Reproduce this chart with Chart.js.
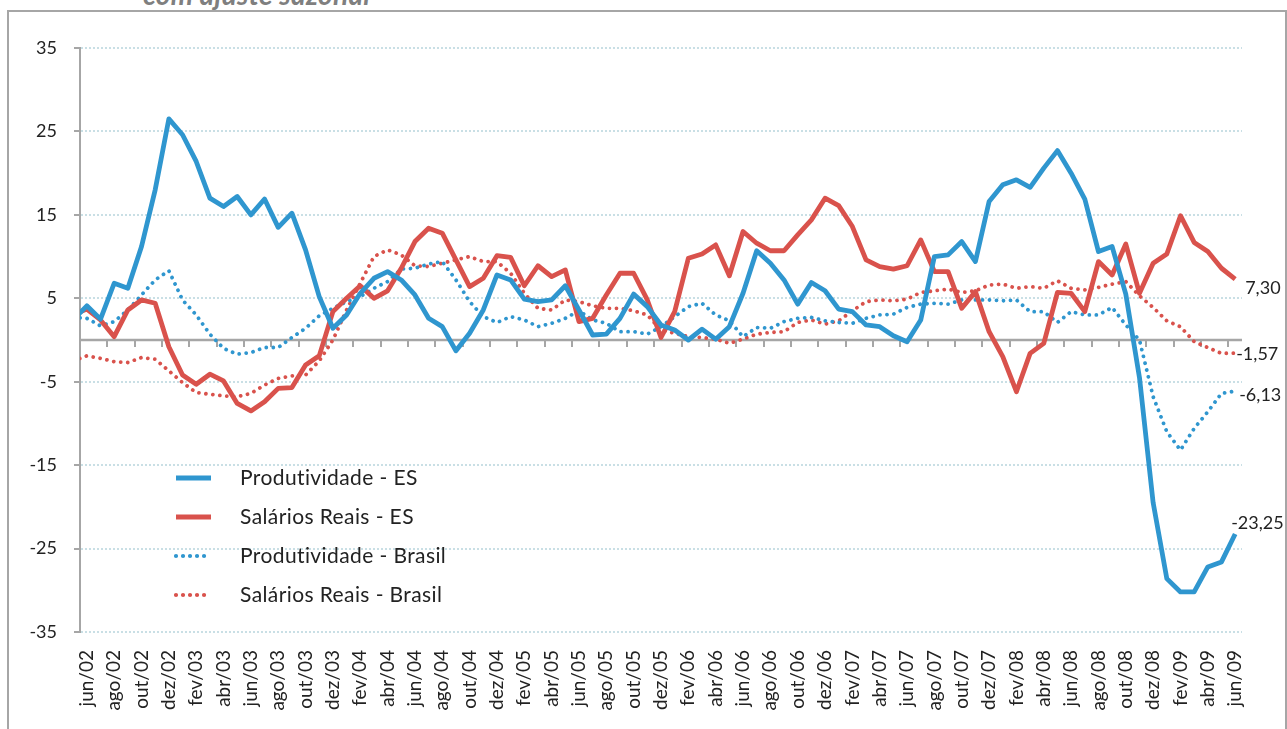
<!DOCTYPE html>
<html><head><meta charset="utf-8">
<script src="https://cdn.jsdelivr.net/npm/chart.js@4.4.1/dist/chart.umd.min.js"></script>
<style>
html,body{margin:0;padding:0;background:#fff;}
#wrap{position:relative;width:1287px;height:729px;overflow:hidden;background:#fff;}
#frame{position:absolute;left:7px;top:10px;width:1280px;height:760px;border:2px solid #a6a6a6;box-sizing:border-box;}
#title{position:absolute;left:143px;top:-20px;font:italic bold 28px Lato, sans-serif;color:#7f7f7f;white-space:nowrap;line-height:28px;letter-spacing:0.3px;font-variant-ligatures:none;}
canvas{position:absolute;left:0;top:0;}
</style></head>
<body>
<div id="wrap"><div id="frame"></div><div id="title">com ajuste sazonal</div><canvas id="c" width="1287" height="729"></canvas></div>
<script>
// categories: first entry (mai/02) lies just before the visible axis range, as in the original chart
const categories = ['mai/02','jun/02','jul/02','ago/02','set/02','out/02','nov/02','dez/02',
'jan/03','fev/03','mar/03','abr/03','mai/03','jun/03','jul/03','ago/03','set/03','out/03','nov/03','dez/03',
'jan/04','fev/04','mar/04','abr/04','mai/04','jun/04','jul/04','ago/04','set/04','out/04','nov/04','dez/04',
'jan/05','fev/05','mar/05','abr/05','mai/05','jun/05','jul/05','ago/05','set/05','out/05','nov/05','dez/05',
'jan/06','fev/06','mar/06','abr/06','mai/06','jun/06','jul/06','ago/06','set/06','out/06','nov/06','dez/06',
'jan/07','fev/07','mar/07','abr/07','mai/07','jun/07','jul/07','ago/07','set/07','out/07','nov/07','dez/07',
'jan/08','fev/08','mar/08','abr/08','mai/08','jun/08','jul/08','ago/08','set/08','out/08','nov/08','dez/08',
'jan/09','fev/09','mar/09','abr/09','mai/09','jun/09'];
const firstShown = 'jun/02';

const produtividadeES = [2.4,
 4.1, 2.5, 6.8, 6.2, 11.2, 18.0, 26.5, 24.6, 21.4, 17.0,
 16.0, 17.2, 15.0, 16.9, 13.5, 15.2, 10.8, 5.2, 1.4, 3.0,
 5.6, 7.4, 8.2, 7.2, 5.4, 2.6, 1.6, -1.3, 0.8, 3.6,
 7.8, 7.2, 4.9, 4.6, 4.8, 6.5, 3.6, 0.6, 0.7, 2.6,
 5.5, 4.0, 1.8, 1.2, 0.0, 1.3, 0.1, 1.6, 5.6, 10.7,
 9.2, 7.2, 4.3, 6.9, 5.9, 3.7, 3.4, 1.8, 1.6, 0.5,
 -0.2, 2.4, 10.0, 10.2, 11.8, 9.4, 16.6, 18.6, 19.2, 18.3,
 20.6, 22.7, 20.0, 16.9, 10.6, 11.2, 5.5, -4.5, -19.5, -28.6,
 -30.2, -30.2, -27.2, -26.6, -23.25];
const salariosES = [3.05,
 3.7, 2.4, 0.4, 3.6, 4.8, 4.4, -0.8, -4.2, -5.3, -4.1,
 -4.9, -7.6, -8.5, -7.4, -5.8, -5.7, -3.0, -1.9, 3.4, 5.0,
 6.5, 5.0, 5.9, 8.6, 11.8, 13.4, 12.8, 9.6, 6.4, 7.4,
 10.1, 9.9, 6.5, 8.9, 7.6, 8.4, 2.2, 2.6, 5.4, 8.0,
 8.0, 4.8, 0.3, 3.4, 9.8, 10.3, 11.4, 7.7, 13.0, 11.6,
 10.7, 10.7, 12.6, 14.4, 17.0, 16.1, 13.6, 9.6, 8.8, 8.5,
 8.9, 12.0, 8.2, 8.2, 3.8, 5.8, 1.0, -2.0, -6.2, -1.6,
 -0.4, 5.7, 5.6, 3.4, 9.4, 7.8, 11.5, 5.6, 9.2, 10.3,
 14.9, 11.7, 10.6, 8.6, 7.30];
const produtividadeBR = [2.7,
 2.6, 1.7, 2.2, 3.6, 5.4, 7.2, 8.3, 4.8, 3.0, 0.7,
 -1.0, -1.7, -1.5, -0.9, -0.9, 0.3, 1.4, 2.9, 3.8, 4.6,
 5.2, 6.2, 7.0, 8.5, 8.6, 9.1, 9.4, 7.2, 4.6, 2.8,
 2.1, 2.8, 2.4, 1.6, 2.0, 2.6, 3.5, 2.4, 2.0, 1.0,
 1.0, 0.7, 1.6, 2.8, 4.0, 4.4, 3.0, 2.3, 0.4, 1.5,
 1.4, 2.2, 2.6, 2.7, 2.3, 2.1, 2.0, 2.6, 3.0, 3.1,
 3.9, 4.3, 4.4, 4.3, 4.8, 4.8, 4.8, 4.7, 4.8, 3.4,
 3.4, 2.1, 3.4, 3.0, 3.0, 3.9, 1.8, 0.0, -6.8, -11.0,
 -13.2, -10.6, -8.6, -6.4, -6.13];
const salariosBR = [-2.5,
 -1.9, -2.2, -2.6, -2.7, -2.1, -2.3, -3.7, -5.1, -6.3, -6.5,
 -6.7, -6.8, -6.4, -5.4, -4.6, -4.3, -4.2, -2.5, 0.0, 3.6,
 6.8, 10.0, 10.8, 10.2, 8.9, 8.8, 9.2, 9.6, 10.0, 9.4,
 9.4, 8.0, 5.6, 3.8, 3.6, 4.8, 4.6, 4.1, 3.8, 3.8,
 3.5, 3.0, 1.2, 0.8, 0.4, 0.3, 0.1, -0.4, 0.1, 0.7,
 0.9, 1.0, 2.1, 2.4, 1.9, 2.3, 3.5, 4.6, 4.8, 4.7,
 4.9, 5.7, 5.9, 6.1, 5.7, 5.9, 6.6, 6.7, 6.2, 6.4,
 6.2, 7.1, 6.2, 6.0, 6.3, 6.7, 7.0, 5.3, 3.9, 2.3,
 1.6, -0.2, -0.9, -1.6, -1.57];

const seriesNames = ['Produtividade - ES', 'Salários Reais - ES', 'Produtividade - Brasil', 'Salários Reais - Brasil'];
const yTickValues = [-35, -25, -15, -5, 5, 15, 25, 35];

// styles
const BLUE = '#2f96cf', RED = '#d9524c';
const FONT = 'Lato, "Open Sans", sans-serif';
const endLabelOffsets = [[-4, -11], [10, 9], [4, 4], [1, 1]];

function lineStyle(color, dotted) {
  return dotted
    ? {borderColor: color, borderWidth: 3.8, borderDash: [0.01, 7], borderCapStyle: 'round', borderJoinStyle: 'round'}
    : {borderColor: color, borderWidth: 4.8, borderDash: [], borderCapStyle: 'butt', borderJoinStyle: 'round'};
}

const zeroAxis = {
  id: 'zeroAxis',
  beforeDatasetsDraw(chart) {
    const {ctx, chartArea, scales: {x, y}} = chart;
    const y0 = y.getPixelForValue(0);
    const i0 = categories.indexOf(firstShown);
    const half = (x.getPixelForValue(i0 + 1) - x.getPixelForValue(i0)) / 2;
    ctx.save();
    ctx.strokeStyle = '#a6a6a6';
    ctx.lineWidth = 2.5;
    ctx.beginPath(); ctx.moveTo(chartArea.left, y0); ctx.lineTo(chartArea.right, y0); ctx.stroke();
    ctx.lineWidth = 2;
    ctx.beginPath();
    for (let i = i0; i < categories.length; i += 2) {
      const px = Math.round(x.getPixelForValue(i) - half);
      ctx.moveTo(px, y0); ctx.lineTo(px, y0 + 7);
    }
    ctx.stroke();
    ctx.restore();
  }
};

const legendInside = {
  id: 'legendInside',
  afterDraw(chart) {
    const {ctx} = chart;
    const rows = [478, 517, 556, 595];
    ctx.save();
    chart.data.datasets.forEach((ds, k) => {
      const yy = rows[k];
      ctx.beginPath();
      ctx.strokeStyle = ds.borderColor;
      ctx.lineWidth = ds.borderWidth + 0.4;
      ctx.setLineDash(ds.borderDash);
      ctx.lineCap = ds.borderCapStyle;
      ctx.moveTo(176, yy); ctx.lineTo(211, yy);
      ctx.stroke();
      ctx.setLineDash([]);
      ctx.fillStyle = '#222';
      ctx.font = '21px ' + FONT;
      if ('letterSpacing' in ctx) ctx.letterSpacing = '0.4px';
      ctx.textBaseline = 'middle';
      ctx.textAlign = 'left';
      ctx.fillText(ds.label, 240, yy);
      if ('letterSpacing' in ctx) ctx.letterSpacing = '0px';
    });
    ctx.restore();
  }
};

const endLabels = {
  id: 'endLabels',
  afterDatasetsDraw(chart) {
    const {ctx} = chart;
    ctx.save();
    ctx.fillStyle = '#222';
    ctx.font = '18px ' + FONT;
    ctx.textBaseline = 'middle';
    ctx.textAlign = 'left';
    chart.data.datasets.forEach((ds, k) => {
      const meta = chart.getDatasetMeta(k);
      const pt = meta.data[meta.data.length - 1];
      const v = ds.data[ds.data.length - 1];
      const txt = v.toFixed(2).replace('.', ',');
      ctx.fillText(txt, pt.x + endLabelOffsets[k][0], pt.y + endLabelOffsets[k][1]);
    });
    ctx.restore();
  }
};

function draw() {
  new Chart(document.getElementById('c'), {
    type: 'line',
    data: {
      labels: categories,
      datasets: [
        Object.assign({label: seriesNames[0], data: produtividadeES}, lineStyle(BLUE, false)),
        Object.assign({label: seriesNames[1], data: salariosES}, lineStyle(RED, false)),
        Object.assign({label: seriesNames[2], data: produtividadeBR}, lineStyle(BLUE, true)),
        Object.assign({label: seriesNames[3], data: salariosBR}, lineStyle(RED, true))
      ]
    },
    options: {
      responsive: false,
      animation: false,
      devicePixelRatio: 1,
      layout: {padding: {left: 0, top: 48, right: 45, bottom: 0}},
      elements: {point: {radius: 0, hoverRadius: 0}, line: {tension: 0, fill: false}},
      plugins: {legend: {display: false}, tooltip: {enabled: false}},
      scales: {
        x: {
          type: 'category',
          min: firstShown,
          offset: true,
          grid: {display: false, drawTicks: false},
          border: {display: false},
          afterFit(s) { s.height = 97; },
          ticks: {
            autoSkip: false, minRotation: 90, maxRotation: 90, padding: 18,
            color: '#222', font: {family: FONT, size: 19},
            callback(value) {
              const off = value - categories.indexOf(firstShown);
              return off % 2 === 0 ? categories[value] : '';
            }
          }
        },
        y: {
          min: -35, max: 35,
          afterFit(s) { s.width = 80; },
          afterBuildTicks(s) { s.ticks = yTickValues.map(v => ({value: v})); },
          grid: {color: '#c9dfe5', lineWidth: 2, drawTicks: true, tickLength: 6, tickColor: '#a6a6a6', tickWidth: 2, tickBorderDash: []},
          border: {display: true, color: '#a6a6a6', width: 2, dash: [2, 2]},
          ticks: {padding: 17, color: '#222', font: {family: FONT, size: 18}}
        }
      }
    },
    plugins: [zeroAxis, endLabels, legendInside]
  });
}
if (document.fonts && document.fonts.load) {
  Promise.all([document.fonts.load('18px Lato'), document.fonts.load('italic bold 28px Lato')]).then(draw, draw);
} else { draw(); }
</script>
</body></html>
